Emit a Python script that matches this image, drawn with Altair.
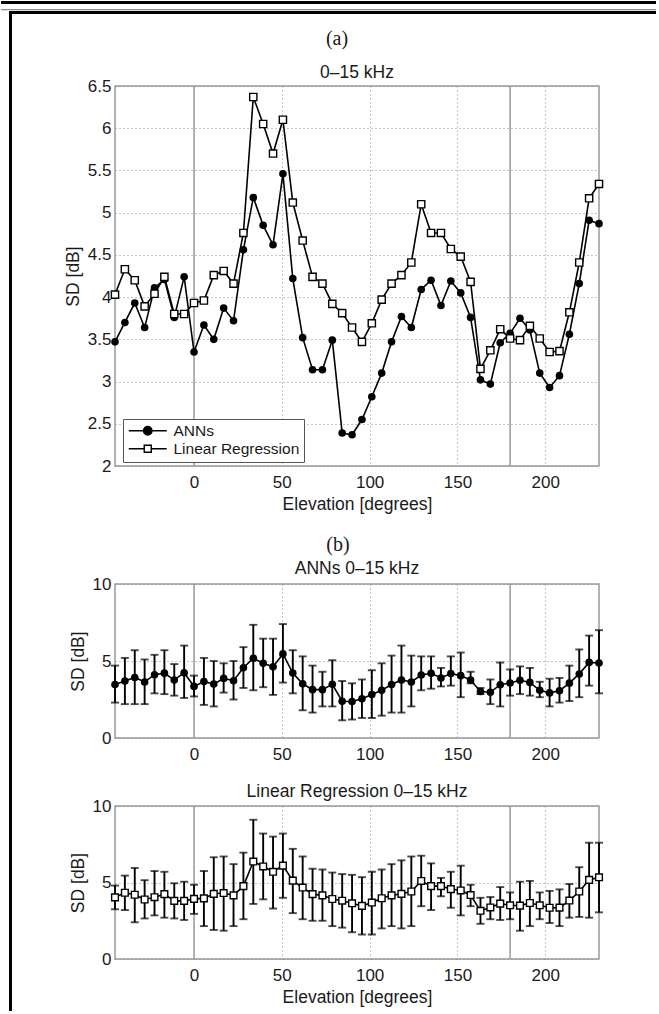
import altair as alt
import pandas as pd

# ---------------- data ----------------
ELEVATION = [-45, -39.375, -33.75, -28.125, -22.5, -16.875, -11.25, -5.625, 0, 5.625,
             11.25, 16.875, 22.5, 28.125, 33.75, 39.375, 45, 50.625, 56.25, 61.875,
             67.5, 73.125, 78.75, 84.375, 90, 95.625, 101.25, 106.875, 112.5, 118.125,
             123.75, 129.375, 135, 140.625, 146.25, 151.875, 157.5, 163.125, 168.75, 174.375,
             180, 185.625, 191.25, 196.875, 202.5, 208.125, 213.75, 219.375, 225, 230.625]

ANN_MEAN = [3.47, 3.70, 3.93, 3.64, 4.11, 4.21, 3.76, 4.24, 3.35, 3.67,
            3.50, 3.87, 3.72, 4.56, 5.18, 4.85, 4.62, 5.46, 4.22, 3.52,
            3.14, 3.14, 3.49, 2.39, 2.37, 2.55, 2.82, 3.10, 3.47, 3.77,
            3.64, 4.09, 4.20, 3.90, 4.19, 4.05, 3.76, 3.02, 2.97, 3.46,
            3.57, 3.75, 3.61, 3.10, 2.93, 3.07, 3.56, 4.16, 4.91, 4.87]

LR_MEAN = [4.03, 4.33, 4.20, 3.89, 4.04, 4.24, 3.80, 3.80, 3.93, 3.96,
           4.26, 4.31, 4.16, 4.76, 6.37, 6.05, 5.70, 6.10, 5.12, 4.67,
           4.24, 4.16, 3.92, 3.81, 3.64, 3.47, 3.69, 3.97, 4.16, 4.26,
           4.41, 5.10, 4.76, 4.76, 4.57, 4.48, 4.18, 3.15, 3.37, 3.62,
           3.51, 3.49, 3.66, 3.51, 3.35, 3.36, 3.82, 4.41, 5.17, 5.34]

ANN_HI = [4.7, 5.2, 5.7, 5.1, 5.4, 5.7, 4.8, 6.0, 4.05, 5.2,
          5.0, 4.85, 5.0, 5.9, 7.35, 6.45, 6.45, 7.4, 5.7, 5.3,
          4.7, 4.3, 5.05, 3.7, 3.55, 3.8, 4.4, 4.85, 5.35, 6.0,
          5.35, 5.3, 5.3, 4.55, 5.3, 5.55, 4.3, 3.25, 3.8, 4.9,
          4.45, 4.65, 4.55, 3.65, 3.85, 3.9, 4.7, 5.75, 6.65, 7.0]
ANN_LO = [2.3, 2.2, 2.2, 2.2, 2.9, 2.85, 2.75, 2.6, 2.7, 2.15,
          2.05, 2.95, 2.5, 3.25, 3.1, 3.3, 2.8, 3.6, 2.9, 1.8,
          1.65, 2.05, 2.05, 1.15, 1.2, 1.3, 1.3, 1.45, 1.65, 1.65,
          2.05, 3.1, 3.2, 3.35, 3.4, 2.65, 3.55, 2.85, 2.2, 2.05,
          2.75, 2.85, 2.75, 2.65, 2.05, 2.3, 2.4, 2.65, 3.4, 2.9]

LR_HI = [4.8, 5.45, 5.95, 5.15, 5.75, 5.7, 4.95, 5.05, 4.85, 5.75,
         6.65, 6.7, 6.2, 6.95, 9.1, 8.2, 8.0, 8.2, 7.2, 6.7,
         5.9, 5.85, 5.65, 5.55, 5.5, 5.35, 5.7, 5.85, 6.2, 6.45,
         6.7, 6.75, 6.25, 5.3, 5.7, 6.1, 4.85, 4.0, 4.05, 4.7,
         4.35, 5.05, 5.1, 4.35, 4.45, 4.55, 4.9, 6.0, 7.6, 7.6]
LR_LO = [3.25, 3.2, 2.4, 2.65, 2.85, 2.7, 2.65, 2.55, 2.95, 2.15,
         1.9, 1.85, 2.15, 2.6, 3.6, 3.9, 3.3, 4.0, 3.0, 2.6,
         2.5, 2.5, 2.15, 2.05, 1.75, 1.6, 1.6, 2.0, 2.15, 2.0,
         2.15, 3.45, 3.2, 4.1, 3.35, 2.85, 3.45, 2.3, 2.6, 2.55,
         2.6, 1.85, 2.15, 2.6, 2.35, 2.15, 2.7, 2.75, 2.7, 3.05]

SERIES = ["ANNs", "Linear Regression"]
X_DOMAIN = [-45, 230.625]
X_TICKS = [0, 50, 100, 150, 200]
REF_LINES = [0, 180]
Y_DOMAIN_A = [2, 6.5]
Y_TICKS_A = [2, 2.5, 3, 3.5, 4, 4.5, 5, 5.5, 6, 6.5]
Y_DOMAIN_B = [0, 10]
Y_TICKS_B = [0, 5, 10]

TITLE_A = "0\u201315 kHz"
TITLE_B1 = "ANNs 0\u201315 kHz"
TITLE_B2 = "Linear Regression 0\u201315 kHz"
X_TITLE = "Elevation [degrees]"
Y_TITLE = "SD [dB]"

# ---------------- tables ----------------
df_ann = pd.DataFrame({"elev": ELEVATION, "mean": ANN_MEAN, "lo": ANN_LO, "hi": ANN_HI,
                       "series": SERIES[0]})
df_lr = pd.DataFrame({"elev": ELEVATION, "mean": LR_MEAN, "lo": LR_LO, "hi": LR_HI,
                      "series": SERIES[1]})
df_all = pd.concat([df_ann, df_lr], ignore_index=True)
df_ref = pd.DataFrame({"elev": REF_LINES})
one = pd.DataFrame({"k": [0]})

FONT = "Liberation Sans"
INK = "#1a1a1a"
FRAME = "#9a9a9a"

W = 484
H_A, H_B1, H_B2 = 380, 154, 153

xs = alt.Scale(domain=X_DOMAIN, nice=False, zero=False)


def x_enc(title):
    if title:
        ax = alt.Axis(values=X_TICKS, grid=True, labelPadding=8, titlePadding=5, title=title)
    else:
        ax = alt.Axis(values=X_TICKS, grid=True, labelPadding=8, title=None)
    return alt.X("elev:Q", scale=xs, axis=ax)


def y_enc(field, domain, ticks):
    return alt.Y(field, scale=alt.Scale(domain=domain, nice=False, zero=False),
                 axis=alt.Axis(values=ticks, format=".2~f", grid=True, title=Y_TITLE,
                               labelPadding=4, titlePadding=5))


def ref_layer(xe):
    return alt.Chart(df_ref).mark_rule(color=FRAME, strokeWidth=1.5).encode(x=xe)


def label_text(txt, x, y):
    return alt.Chart(one).mark_text(text=txt, font="Liberation Serif", fontSize=20,
                                    color=INK, align="center", baseline="middle").encode(
        x=alt.value(x), y=alt.value(y))


def title_text(txt, y):
    return alt.Chart(one).mark_text(text=txt, font=FONT, fontSize=17.5,
                                    color=INK, align="center", baseline="middle").encode(
        x=alt.value(W / 2), y=alt.value(y))


def frame_rect(x, x2, y, y2, color):
    return alt.Chart(one).mark_rect(color=color).encode(
        x=alt.value(x), x2=alt.value(x2), y=alt.value(y), y2=alt.value(y2))


# ---------------- panel (a) ----------------
xa = x_enc(X_TITLE)
ya = y_enc("mean:Q", Y_DOMAIN_A, Y_TICKS_A)

P_CIRCLE = "M-3.8,0H3.8M-0.85,0A0.85,0.85,0,1,0,0.85,0A0.85,0.85,0,1,0,-0.85,0Z"
P_SQUARE = "M-3.8,0H-0.7M0.7,0H3.8M-0.7,-0.7H0.7V0.7H-0.7Z"

LEG = alt.Legend(title=None, orient="none", legendX=8, legendY=333, symbolSize=100,
                 symbolStrokeColor="black", symbolStrokeWidth=1.4, symbolOpacity=1,
                 symbolOffset=13, labelOffset=18, labelFontSize=15.5, labelFont=FONT,
                 labelColor=INK, padding=4, rowPadding=1, strokeColor="#555555",
                 fillColor="white", cornerRadius=0)

lines_a = alt.Chart(df_all).mark_line(color="black", strokeWidth=1.6).encode(
    x=xa, y=ya, detail="series:N")
ann_pts_a = alt.Chart(df_ann).mark_circle(color="black", size=58, opacity=1).encode(x=xa, y=ya)
lr_pts_a = alt.Chart(df_lr).mark_square(fill="white", stroke="black", strokeWidth=1.4,
                                        size=52, opacity=1).encode(x=xa, y=ya)
legend_a = alt.Chart(df_all).mark_point(opacity=0).encode(
    x=xa, y=ya,
    shape=alt.Shape("series:N", scale=alt.Scale(domain=SERIES, range=[P_CIRCLE, P_SQUARE]),
                    legend=LEG),
    fill=alt.Fill("series:N", scale=alt.Scale(domain=SERIES, range=["black", "white"]),
                  legend=LEG),
    stroke=alt.Stroke("series:N", scale=alt.Scale(domain=SERIES, range=["black", "black"]),
                      legend=LEG),
)

panel_a = alt.layer(
    frame_rect(-114, 541, -85, -82, "black"),
    frame_rect(-114, 541, -77, -75.8, "#8a8a8a"),
    frame_rect(-106, 541, -75, -72, "black"),
    frame_rect(-106, -103, -75, 925, "black"),
    label_text("(a)", 222, -47),
    title_text(TITLE_A, -13),
    ref_layer(xa),
    lines_a, ann_pts_a, lr_pts_a, legend_a,
).properties(width=W, height=H_A)

# ---------------- panel (b) top: ANNs ----------------
xb1 = x_enc(None)
yb1 = y_enc("mean:Q", Y_DOMAIN_B, Y_TICKS_B)
yb1_lo = y_enc("lo:Q", Y_DOMAIN_B, Y_TICKS_B)

panel_b1 = alt.layer(
    label_text("(b)", 223, -39),
    title_text(TITLE_B1, -15),
    ref_layer(xb1),
    alt.Chart(df_ann).mark_line(color="black", strokeWidth=1.6).encode(x=xb1, y=yb1),
    alt.Chart(df_ann).mark_errorbar(ticks={"size": 8, "thickness": 1.9}, thickness=1.9,
                                    color="black").encode(x=xb1, y=yb1_lo, y2="hi:Q"),
    alt.Chart(df_ann).mark_circle(color="black", size=58, opacity=1).encode(x=xb1, y=yb1),
).properties(width=W, height=H_B1)

# ---------------- panel (b) bottom: Linear Regression ----------------
xb2 = x_enc(X_TITLE)
yb2 = y_enc("mean:Q", Y_DOMAIN_B, Y_TICKS_B)
yb2_lo = y_enc("lo:Q", Y_DOMAIN_B, Y_TICKS_B)

panel_b2 = alt.layer(
    title_text(TITLE_B2, -14),
    ref_layer(xb2),
    alt.Chart(df_lr).mark_line(color="black", strokeWidth=1.6).encode(x=xb2, y=yb2),
    alt.Chart(df_lr).mark_errorbar(ticks={"size": 8, "thickness": 1.9}, thickness=1.9,
                                   color="black").encode(x=xb2, y=yb2_lo, y2="hi:Q"),
    alt.Chart(df_lr).mark_square(fill="white", stroke="black", strokeWidth=1.4,
                                 size=45, opacity=1).encode(x=xb2, y=yb2),
).properties(width=W, height=H_B2)

inner = alt.vconcat(panel_b1, panel_b2, spacing=68, bounds="flush")

chart = alt.vconcat(panel_a, inner, spacing=118, bounds="flush").resolve_scale(
    shape="independent", fill="independent", stroke="independent"
).resolve_legend(
    shape="independent", fill="independent", stroke="independent"
).properties(
    padding=0, background="white"
).configure_view(
    stroke=FRAME, strokeWidth=1.5
).configure_axis(
    labelFont=FONT, titleFont=FONT, labelFontSize=17, titleFontSize=17.5,
    labelColor=INK, titleColor=INK, titleFontWeight="normal",
    domain=False, ticks=False, tickSize=0,
    gridColor="#8a8a8a", gridDash=[1, 3], gridWidth=1, gridOpacity=1,
)

chart.save("out.html", embed_options={"renderer": "svg", "actions": False})
